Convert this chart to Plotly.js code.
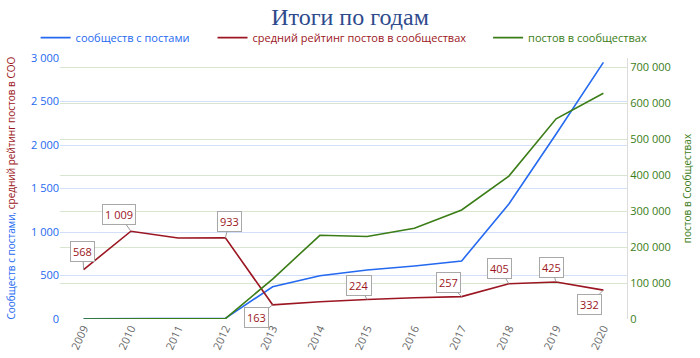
<!DOCTYPE html>
<html><head><meta charset="utf-8">
<script src="https://cdn.plot.ly/plotly-3.0.1.min.js"></script>
<style>html,body{margin:0;padding:0;background:#fff}#c{width:700px;height:358px}</style>
</head><body><div id="c"></div>
<script>
const years = ['2009','2010','2011','2012','2013','2014','2015','2016','2017','2018','2019','2020'];
const communities = [2, 4, 5, 8, 371, 498, 563, 609, 667, 1322, 2126, 2950];
const avgRating = [568, 1009, 931, 933, 163, 199, 224, 245, 257, 405, 425, 332];
const posts = [100, 300, 500, 1000, 111000, 232500, 229000, 252000, 303000, 397000, 556000, 627000];
const labelYears = ['2009','2010','2012','2013','2015','2017','2018','2019','2020'];
const labelOffsets = [[-1,-18],[-12,-17],[4,-16],[-16,13],[-8,-14],[-13,-14],[-9,-15],[-5,-15],[-14,14]];

const cBlue = '#2469f0', cRed = '#9b1622', cGreen = '#3b7d17';
const fmt = v => String(v).replace(/\B(?=(\d{3})+(?!\d))/g, ' ');

const traces = [
  {x: years, y: communities, type:'scatter', mode:'lines', name:'<span style="color:'+cBlue+'">сообществ с постами</span>',
   line:{color:cBlue, width:1.6}, yaxis:'y', legend:'legend'},
  {x: years, y: avgRating, type:'scatter', mode:'lines', name:'<span style="color:'+cRed+'">средний рейтинг постов в сообществах</span>',
   line:{color:cRed, width:1.6}, yaxis:'y', legend:'legend2'},
  {x: years, y: posts, type:'scatter', mode:'lines', name:'<span style="color:'+cGreen+'">постов в сообществах</span>',
   line:{color:cGreen, width:1.6}, yaxis:'y2', legend:'legend3'}
];

const annotations = labelYears.map((yr, i) => {
  const idx = years.indexOf(yr);
  return {x: idx, y: avgRating[idx], xref:'x', yref:'y', text: fmt(avgRating[idx]),
    showarrow:true, arrowhead:0, arrowwidth:1, arrowcolor:'#9a9a9a', ax: labelOffsets[i][0], ay: labelOffsets[i][1],
    bgcolor:'#ffffff', bordercolor:'#a8a8a8', borderwidth:1, borderpad:2,
    font:{family:'Open Sans, sans-serif', size:11, color:cRed}};
});
annotations.push({xref:'paper', yref:'paper', x:0, xshift:-50, y:0.5, textangle:-90, showarrow:false,
  xanchor:'center', yanchor:'middle',
  text:'<span style="color:'+cBlue+'">Сообществ с постами, </span><span style="color:'+cRed+'">средний рейтинг постов в СОО</span>',
  font:{family:'Open Sans, sans-serif', size:10}});

const legBase = {orientation:'h', yanchor:'middle', y:1.078, xanchor:'left', bgcolor:'rgba(0,0,0,0)',
  font:{family:'Open Sans, sans-serif', size:11}, itemwidth:30};

const layout = {
  width:700, height:358,
  margin:{l:60, r:73, t:58, b:39},
  paper_bgcolor:'#ffffff', plot_bgcolor:'#ffffff',
  separators:', ',
  title:{text:'Итоги по годам', x:0.5, xanchor:'center', y:0.955, yanchor:'middle',
    font:{family:'Liberation Serif, serif', size:24, color:'#2e4a8c'}},
  showlegend:true,
  legend: Object.assign({}, legBase, {x:-0.043}),
  legend2: Object.assign({}, legBase, {x:0.269}),
  legend3: Object.assign({}, legBase, {x:0.755}),
  xaxis:{type:'category', range:[-0.5, 11.5], showgrid:false, zeroline:false, showline:false,
    tickangle:-65, tickfont:{family:'Open Sans, sans-serif', size:11, color:'#666'}, ticks:''},
  yaxis:{range:[0, 3000], dtick:500, tickformat:',d', gridcolor:'#d3def7', gridwidth:1, zeroline:false, showline:false,
    automargin:false, tickfont:{family:'Open Sans, sans-serif', size:11, color:cBlue}},
  yaxis2:{overlaying:'y', side:'right', range:[0, 725000], dtick:100000, tickformat:',d', gridcolor:'#d8e6cf', gridwidth:1,
    zeroline:false, showline:true, linecolor:'#dcdcdc', linewidth:1, automargin:false,
    tickfont:{family:'Open Sans, sans-serif', size:11, color:cGreen},
    title:{text:'постов в Сообществах', font:{family:'Open Sans, sans-serif', size:10, color:cGreen}, standoff:14}},
  annotations: annotations
};

Plotly.newPlot('c', traces, layout, {displayModeBar:false, staticPlot:true});
</script></body></html>
